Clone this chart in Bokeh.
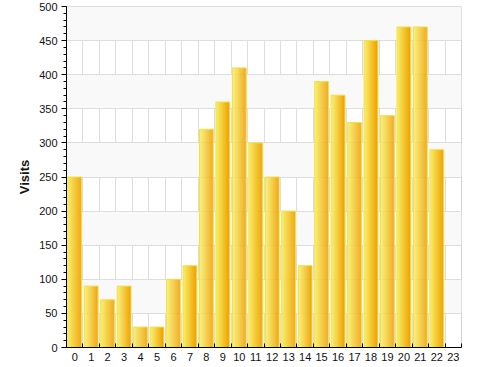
from bokeh.plotting import figure
from bokeh.models import ColumnDataSource, FixedTicker, Range1d
from bokeh.transform import dodge
from bokeh.embed import file_html
from bokeh.resources import INLINE

# ---- data ----
hours = list(range(24))
hour_labels = [str(h) for h in hours]
visits = [250, 90, 70, 90, 30, 30, 100, 120, 320, 360, 410, 300,
          250, 200, 120, 390, 370, 330, 450, 340, 470, 470, 290, 0]
y_ticks = list(range(0, 501, 50))
y_minor = list(range(0, 501, 10))

src = ColumnDataSource(dict(x=hours, top=visits))

p = figure(width=477, height=367, output_backend="svg", toolbar_location=None,
           x_range=Range1d(-0.5, 23.5), y_range=Range1d(0, 500),
           min_border_left=66, min_border_right=16, min_border_top=6,
           min_border_bottom=20)
p.background_fill_color = "white"
p.border_fill_color = "white"
p.outline_line_color = "#d4d4d4"

# gradient bars made of vertical strips
bar_w = 0.84
N = 14
step = bar_w / N
c0 = (247, 238, 100)
c1 = (240, 160, 0)
for k in range(N):
    t = k / (N - 1)
    col = "#%02x%02x%02x" % tuple(int(round(a + (b - a) * t)) for a, b in zip(c0, c1))
    w = step + (0.012 if k < N - 1 else 0)
    off = -bar_w / 2 + k * step + w / 2
    p.vbar(x=dodge("x", off), top="top", bottom=0, width=w, source=src,
           fill_color=col, line_color=None)
p.vbar(x="x", top="top", bottom=0, width=bar_w, source=src,
       fill_color=None, line_color="#f4e04a", line_width=1)

# x axis
boundaries = [h - 0.5 for h in hours] + [hours[-1] + 0.5]
p.xaxis.ticker = FixedTicker(ticks=hours, minor_ticks=boundaries)
p.xaxis.major_label_overrides = {h: s for h, s in zip(hours, hour_labels)}
p.xaxis.major_tick_in = 0
p.xaxis.major_tick_out = 0
p.xaxis.minor_tick_in = 4
p.xaxis.minor_tick_out = 0
p.xaxis.minor_tick_line_color = "black"
p.xaxis.axis_line_color = "black"
p.xaxis.major_label_standoff = 5
p.xaxis.major_label_text_font = "Liberation Sans"
p.xaxis.major_label_text_font_size = "11px"
p.xaxis.major_label_text_color = "#111111"
p.xgrid.ticker = FixedTicker(ticks=boundaries)
p.xgrid.grid_line_color = "#dddddd"

# y axis
p.yaxis.ticker = FixedTicker(ticks=y_ticks, minor_ticks=y_minor)
p.yaxis.major_tick_in = 0
p.yaxis.major_tick_out = 5
p.yaxis.minor_tick_in = 0
p.yaxis.minor_tick_out = 3
p.yaxis.minor_tick_line_color = "black"
p.yaxis.axis_line_color = "black"
p.yaxis.major_label_standoff = 4
p.yaxis.major_label_text_font = "Liberation Sans"
p.yaxis.major_label_text_font_size = "11px"
p.yaxis.major_label_text_color = "#111111"
p.yaxis.axis_label = "Visits"
p.yaxis.axis_label_text_font = "Liberation Sans"
p.yaxis.axis_label_text_font_size = "13px"
p.yaxis.axis_label_text_font_style = "bold"
p.yaxis.axis_label_text_color = "#111111"
p.yaxis.axis_label_standoff = 4
p.ygrid.ticker = FixedTicker(ticks=y_ticks)
p.ygrid.grid_line_color = "#dddddd"
p.ygrid.band_fill_color = "#f9f9f9"
p.ygrid.band_fill_alpha = 1.0

open("out.html", "w").write(file_html(p, INLINE))
